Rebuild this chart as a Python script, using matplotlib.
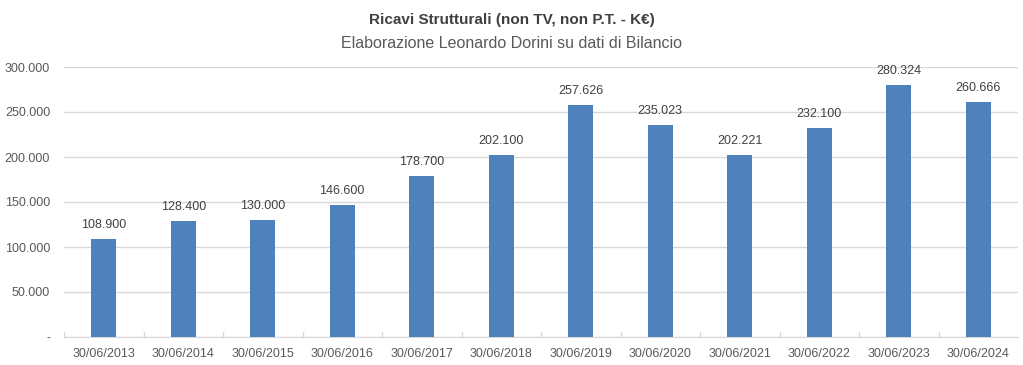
import numpy as np
import matplotlib.pyplot as plt
from matplotlib.ticker import FuncFormatter

# dati
anni = ['30/06/2013', '30/06/2014', '30/06/2015', '30/06/2016', '30/06/2017', '30/06/2018',
        '30/06/2019', '30/06/2020', '30/06/2021', '30/06/2022', '30/06/2023', '30/06/2024']
ricavi = [108900, 128400, 130000, 146600, 178700, 202100,
          257626, 235023, 202221, 232100, 280324, 260666]

titolo = 'Ricavi Strutturali (non TV, non P.T. - K€)'
sottotitolo = 'Elaborazione Leonardo Dorini su dati di Bilancio'

plt.rcParams['font.family'] = ['Liberation Sans', 'DejaVu Sans']

def fmt(v):
    if v == 0:
        return '-'
    return '{:,.0f}'.format(v).replace(',', '.')

fig = plt.figure(figsize=(10.23, 3.65), dpi=100)
ax = fig.add_axes([64/1023, 28/365, 954/1023, 270/365])

x = np.arange(len(anni))
ax.bar(x, ricavi, width=0.31, color='#4F81BD', zorder=3)
for xi, v in zip(x, ricavi):
    ax.text(xi, v + 9000, fmt(v), ha='center', va='bottom', fontsize=9, color='#404040')

ax.set_xlim(-0.5, len(anni) - 0.5)
ax.set_ylim(0, 300000)
ax.set_yticks(np.arange(0, 300001, 50000))
ax.yaxis.set_major_formatter(FuncFormatter(lambda v, p: fmt(v)))
ax.set_xticks(x)
ax.set_xticklabels(anni)
ax.grid(axis='y', color='#D9D9D9', linewidth=1, zorder=0)
for s in ['top', 'right', 'left']:
    ax.spines[s].set_visible(False)
ax.spines['bottom'].set_color('#D9D9D9')
ax.tick_params(axis='y', length=0, labelsize=9, labelcolor='#595959', pad=10)
ax.tick_params(axis='x', length=0, labelsize=9, labelcolor='#595959', pad=8)
# tacche tra le categorie
for xi in np.arange(-0.5, len(anni), 1.0):
    ax.plot([xi, xi], [0, 5500], color='#D9D9D9', lw=1, zorder=1)

fig.text(0.5, 1 - 20/365, titolo, ha='center', va='center', fontsize=11, fontweight='bold', color='#404040')
fig.text(0.5, 1 - 44/365, sottotitolo, ha='center', va='center', fontsize=11.5, color='#595959')

plt.savefig('out.png', dpi=100)
